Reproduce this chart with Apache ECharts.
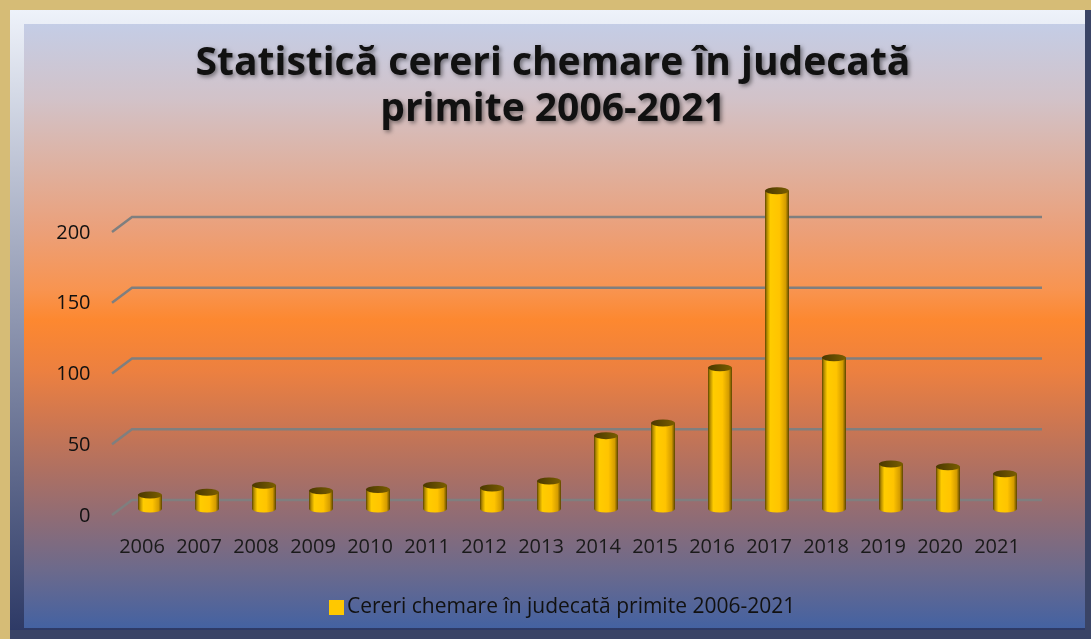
<!DOCTYPE html>
<html>
<head>
<meta charset="utf-8">
<script src="https://cdn.jsdelivr.net/npm/echarts@6/dist/echarts.min.js" type="text/javascript" charset="utf-8"></script>
<style>
html, body { margin: 0; padding: 0; background: #d6bc76; }
#main { width: 1091px; height: 639px; }
</style>
</head>
<body>
<div id="main"></div>
<script>
// date
var years = ['2006', '2007', '2008', '2009', '2010', '2011', '2012', '2013',
             '2014', '2015', '2016', '2017', '2018', '2019', '2020', '2021'];
var cereri = [10, 12, 17, 13, 14, 17, 15, 20, 52, 61, 100, 225, 107, 32, 30, 25];
var yTicks = [0, 50, 100, 150, 200];
var seriesName = 'Cereri chemare în judecată primite 2006-2021';

var myChart = echarts.init(document.getElementById('main'));

var barColor = new echarts.graphic.LinearGradient(0, 0, 1, 0, [
    {offset: 0, color: '#5a4400'},
    {offset: 0.08, color: '#b08800'},
    {offset: 0.22, color: '#ffcc00'},
    {offset: 0.6, color: '#ffc400'},
    {offset: 0.86, color: '#d49c00'},
    {offset: 1, color: '#5a4400'}
]);
var capColor = new echarts.graphic.LinearGradient(0, 0, 1, 0, [
    {offset: 0, color: '#4a3800'},
    {offset: 1, color: '#7a5e00'}
]);

option = {
    backgroundColor: '#d6bc76',
    textStyle: { fontFamily: 'Open Sans' },
    graphic: [
        { type: 'rect', z: -10, silent: true, shape: {x: 10, y: 10, width: 1081, height: 629},
          style: { fill: '#3a4466' } },
        { type: 'rect', z: -10, silent: true, shape: {x: 10, y: 10, width: 1075, height: 620},
          style: { fill: new echarts.graphic.LinearGradient(0, 0, 0, 1, [
              {offset: 0, color: '#eef2fa'}, {offset: 1, color: '#2e3a66'}]) } },
        { type: 'rect', z: -10, silent: true, shape: {x: 24, y: 24, width: 1061, height: 604},
          style: { fill: new echarts.graphic.LinearGradient(0, 0, 0, 1, [
              {offset: 0, color: '#c4cde6'},
              {offset: 0.125, color: '#d2c2c8'},
              {offset: 0.24, color: '#dfb09e'},
              {offset: 0.34, color: '#eba07a'},
              {offset: 0.44, color: '#f89450'},
              {offset: 0.49, color: '#fd8830'},
              {offset: 0.575, color: '#ec8040'},
              {offset: 0.655, color: '#cf7750'},
              {offset: 0.74, color: '#ae7062'},
              {offset: 0.82, color: '#8e6c76'},
              {offset: 0.905, color: '#6c6a8c'},
              {offset: 1, color: '#4462a2'}
          ]) } }
    ],
    title: {
        text: 'Statistică cereri chemare în judecată\nprimite 2006-2021',
        left: 553,
        textAlign: 'center',
        top: 41,
        padding: 0,
        textStyle: {
            fontFamily: 'Open Sans',
            fontSize: 39,
            fontWeight: 'bold',
            lineHeight: 46,
            color: '#111',
            textShadowColor: 'rgba(0,0,0,0.45)',
            textShadowBlur: 4,
            textShadowOffsetX: 2,
            textShadowOffsetY: 2
        }
    },
    legend: {
        data: [{ name: seriesName, itemStyle: { color: '#ffc800' } }],
        left: 324,
        top: 592,
        icon: 'rect',
        itemWidth: 15,
        itemHeight: 15,
        itemGap: 4,
        textStyle: { fontSize: 21, color: '#111', fontFamily: 'Open Sans', padding: [0, 0, 0, -2] }
    },
    grid: { left: 121.5, right: 57.5, top: 169.4, bottom: 130 },
    xAxis: {
        type: 'category',
        data: years,
        axisLine: { show: false },
        axisTick: { show: false },
        axisLabel: { interval: 0, fontSize: 20, color: '#1a1a1a', margin: 28, padding: [0, 16, 0, 0] }
    },
    yAxis: {
        type: 'value',
        min: 0,
        max: 240,
        interval: 50,
        splitLine: { show: false },
        axisLine: { show: false },
        axisTick: { show: false },
        axisLabel: {
            fontSize: 20, color: '#111', margin: 31,
            verticalAlign: 'top', lineHeight: 14,
            formatter: function (v) { return v <= 200 ? v : ''; }
        }
    },
    series: [
        {
            name: 'grila',
            type: 'custom',
            z: 1,
            silent: true,
            encode: { x: 0, y: 1 },
            data: yTicks.map(function (v) { return [0, v]; }),
            renderItem: function (params, api) {
                var y = api.coord([0, api.value(1)])[1];
                var cs = params.coordSys;
                return {
                    type: 'polyline',
                    shape: { points: [[cs.x - 9.5, y + 6], [cs.x + 10.5, y - 9], [cs.x + cs.width + 8.5, y - 9]] },
                    style: { stroke: '#7f7f7f', lineWidth: 2.5, fill: null }
                };
            }
        },
        {
            name: 'baza',
            type: 'pictorialBar',
            z: 2,
            symbol: 'circle',
            symbolSize: [24, 7],
            symbolPosition: 'start',
            symbolOffset: [0, '50%'],
            itemStyle: { color: barColor },
            data: cereri
        },
        {
            name: seriesName,
            type: 'bar',
            z: 3,
            barWidth: 24,
            itemStyle: { color: barColor },
            data: cereri
        },
        {
            name: 'capac',
            type: 'pictorialBar',
            z: 4,
            symbol: 'circle',
            symbolSize: [24, 7],
            symbolPosition: 'end',
            symbolOffset: [0, '-50%'],
            itemStyle: { color: capColor, borderColor: '#3a2c00', borderWidth: 0.8 },
            data: cereri
        }
    ]
};
myChart.setOption(option);
</script>
</body>
</html>
